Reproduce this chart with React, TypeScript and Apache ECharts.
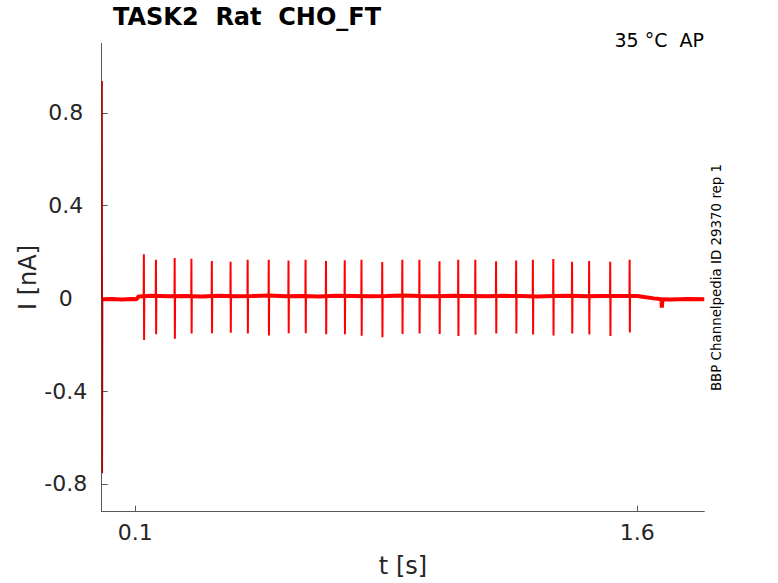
import React, { useEffect, useRef } from "react";
import * as echarts from "echarts";

// ---- data ----
const titleText = "TASK2  Rat  CHO_FT";
const tempText = "35 °C  AP";
const sideText = "BBP Channelpedia ID 29370 rep 1";
const xName = "t [s]";
const yName = "I [nA]";

const xTicks = [0.1, 1.6];
const yTicks = [-0.8, -0.4, 0, 0.4, 0.8];

// baseline current trace (t [s], I [nA])
const baseT = [0.003, 0.03, 0.06, 0.09, 0.104, 0.11, 0.15, 0.2, 0.25, 0.3, 0.35, 0.4, 0.45, 0.5, 0.55, 0.6, 0.65, 0.7, 0.75, 0.8, 0.85, 0.9, 0.95, 1.0, 1.05, 1.1, 1.15, 1.2, 1.25, 1.3, 1.35, 1.4, 1.45, 1.5, 1.55, 1.6, 1.62, 1.65, 1.672, 1.673, 1.675, 1.7, 1.75, 1.8];
const baseI = [-0.004, -0.003, -0.005, -0.003, -0.004, 0.008, 0.011, 0.009, 0.01, 0.008, 0.011, 0.009, 0.01, 0.012, 0.009, 0.01, 0.008, 0.011, 0.01, 0.009, 0.01, 0.012, 0.01, 0.009, 0.011, 0.01, 0.009, 0.011, 0.01, 0.008, 0.01, 0.011, 0.009, 0.01, 0.01, 0.01, 0.006, 0.0, -0.004, -0.04, -0.004, -0.005, -0.003, -0.004];

// spike times and their positive / negative peaks
const spikeT = [0.126, 0.162, 0.218, 0.268, 0.329, 0.385, 0.436, 0.499, 0.558, 0.609, 0.670, 0.726, 0.776, 0.838, 0.898, 0.949, 1.009, 1.065, 1.116, 1.178, 1.238, 1.288, 1.349, 1.405, 1.456, 1.519, 1.577];
const spikeTop = [0.19, 0.167, 0.174, 0.171, 0.161, 0.158, 0.166, 0.166, 0.163, 0.166, 0.161, 0.164, 0.167, 0.157, 0.166, 0.166, 0.16, 0.166, 0.166, 0.16, 0.163, 0.166, 0.17, 0.158, 0.161, 0.158, 0.166];
const spikeBottom = [-0.18, -0.155, -0.174, -0.152, -0.15, -0.148, -0.151, -0.16, -0.15, -0.15, -0.155, -0.155, -0.161, -0.168, -0.154, -0.152, -0.154, -0.162, -0.157, -0.151, -0.151, -0.156, -0.16, -0.151, -0.156, -0.162, -0.147];

// capacitive transient at the start of the sweep
const transT = [0.0005, 0.0012, 0.0018, 0.0026];
const transI = [-0.004, 0.937, -0.754, -0.004];

export default function App() {
  const ref = useRef<HTMLDivElement>(null);
  useEffect(() => {
    if (!ref.current) return;
    const chart = echarts.init(ref.current, null, { renderer: "svg" });

    const baseData = baseT.map((t, i) => [t, baseI[i]]);
    const spikeData: any[] = [];
    spikeT.forEach((t, i) => {
      spikeData.push([t - 0.0006, 0.01]);
      spikeData.push([t, spikeTop[i]]);
      spikeData.push([t + 0.0006, spikeBottom[i]]);
      spikeData.push([t + 0.0012, 0.01]);
      spikeData.push([t + 0.0013, "-"]);
    });
    const transData = transT.map((t, i) => [t, transI[i]]);

    const font = "'DejaVu Sans', sans-serif";
    const axisColor = "#595959";
    const textColor = "#262626";

    chart.setOption({
      animation: false,
      backgroundColor: "#ffffff",
      grid: { left: 101.7, top: 43.3, right: 73.7, bottom: 71.3, containLabel: false },
      xAxis: {
        type: "value",
        min: 0,
        max: 1.8,
        axisLine: { show: true, onZero: false, lineStyle: { color: axisColor, width: 1 } },
        axisTick: { show: true, inside: true, length: 6, customValues: xTicks, lineStyle: { color: axisColor } },
        axisLabel: {
          customValues: xTicks,
          fontFamily: font,
          fontSize: 22,
          color: textColor,
          margin: 10,
          formatter: (v: number) => String(v),
        },
        splitLine: { show: false },
      },
      yAxis: {
        type: "value",
        min: -0.92,
        max: 1.1,
        axisLine: { show: true, onZero: false, lineStyle: { color: axisColor, width: 1 } },
        axisTick: { show: true, inside: true, length: 6, customValues: yTicks, lineStyle: { color: axisColor } },
        axisLabel: {
          customValues: yTicks,
          fontFamily: font,
          fontSize: 22,
          color: textColor,
          align: "center",
          margin: 36,
          formatter: (v: number) => String(v),
        },
        splitLine: { show: false },
      },
      graphic: [
        {
          type: "text",
          left: 113,
          top: 5,
          style: { text: titleText, fontFamily: font, fontWeight: "bold", fontSize: 24, fill: "#000000" },
        },
        {
          type: "text",
          x: 704,
          y: 30,
          style: { text: tempText, fontFamily: font, fontSize: 19, fill: "#000000", align: "right", verticalAlign: "top" },
        },
        {
          type: "text",
          x: 716.5,
          y: 277.5,
          rotation: Math.PI / 2,
          style: { text: sideText, fontFamily: font, fontSize: 13.4, fill: "#000000", align: "center", verticalAlign: "middle" },
        },
        {
          type: "text",
          x: 403,
          y: 566,
          style: { text: xName, fontFamily: font, fontSize: 24, fill: textColor, align: "center", verticalAlign: "middle" },
        },
        {
          type: "text",
          x: 27.5,
          y: 277.5,
          rotation: Math.PI / 2,
          style: { text: yName, fontFamily: font, fontSize: 24, fill: textColor, align: "center", verticalAlign: "middle" },
        },
      ],
      series: [
        {
          type: "line",
          data: baseData,
          showSymbol: false,
          symbol: "none",
          lineStyle: { color: "#ff0000", width: 4 },
          silent: true,
        },
        {
          type: "line",
          data: spikeData,
          showSymbol: false,
          symbol: "none",
          connectNulls: false,
          lineStyle: { color: "#ff0000", width: 2 },
          silent: true,
        },
        {
          type: "line",
          data: transData,
          showSymbol: false,
          symbol: "none",
          lineStyle: { color: "#b00000", width: 1.5 },
          silent: true,
        },
      ],
    });
    return () => chart.dispose();
  }, []);

  return (
    <div
      ref={ref}
      style={{ position: "fixed", left: 0, top: 0, width: 778, height: 583, background: "#fff" }}
    />
  );
}
